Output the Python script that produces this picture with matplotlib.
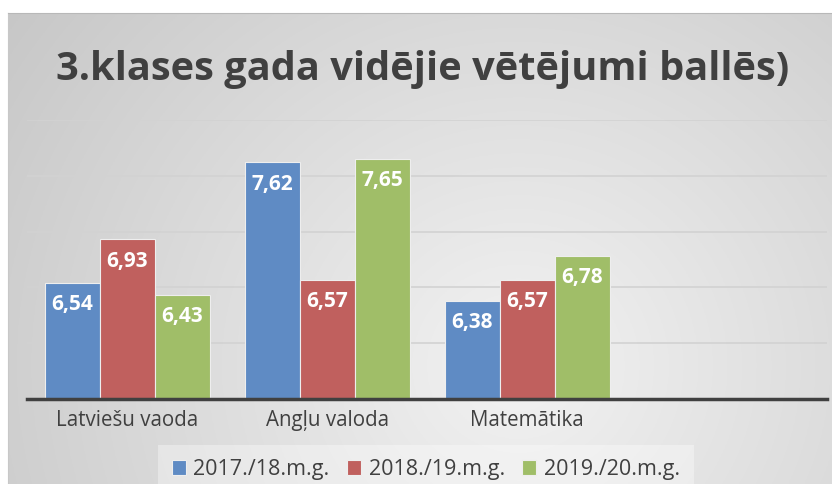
import numpy as np
import matplotlib
matplotlib.use("Agg")
import matplotlib.pyplot as plt

plt.rcParams["font.family"] = ["Open Sans", "DejaVu Sans"]

# data
subjects = ["Latviešu vaoda", "Angļu valoda", "Matemātika", ""]
years = ["2017./18.m.g.", "2018./19.m.g.", "2019./20.m.g."]
y2017 = [6.54, 7.62, 6.38]
y2018 = [6.93, 6.57, 6.57]
y2019 = [6.43, 7.65, 6.78]
colors = ["#5F8BC4", "#C0605E", "#A0BE68"]

W, H = 832, 484
fig = plt.figure(figsize=(W / 100.0, H / 100.0), dpi=100)
fig.patch.set_facecolor("white")

# radial gray background of the chart area
bg = fig.add_axes([8 / W, 0, 1 - 8 / W, 1 - 13 / H])
gx, gy = np.meshgrid(np.linspace(0, 1, 400), np.linspace(0, 1, 240))
dist = np.sqrt(((gx - 0.62) * 1.0) ** 2 + ((gy - 0.75) * 0.6) ** 2)
shade = np.clip(0.95 - 0.22 * dist, 0.76, 0.95)
bg.imshow(np.dstack([shade] * 3), extent=[0, 1, 0, 1], origin="upper", aspect="auto")
bg.set_xticks([])
bg.set_yticks([])
for s in bg.spines.values():
    s.set_visible(False)
bg.spines["top"].set_visible(True)
bg.spines["top"].set_color("#b8b8b8")
bg.spines["left"].set_visible(True)
bg.spines["left"].set_color("#c8c8c8")

ax = fig.add_axes([27 / W, (H - 399) / H, 800 / W, 279 / H])
ax.patch.set_alpha(0)

x = np.arange(len(subjects))
w = 0.275
series = [y2017, y2018, y2019]
for i, vals in enumerate(series):
    pos = x[:3] + (i - 1) * w
    bars = ax.bar(pos, np.array(vals) - 5.5, bottom=5.5, width=w, color=colors[i],
                  edgecolor="#eeeeee", linewidth=0.8, label=years[i], zorder=3)
    for b, v in zip(bars, vals):
        ax.annotate(("%.2f" % v).replace(".", ","), (b.get_x() + b.get_width() / 2, v),
                    xytext=(0, -8), textcoords="offset points", ha="center", va="top",
                    color="white", fontsize=15, fontweight="bold", zorder=4)

ax.set_xlim(-0.5, 3.5)
ax.set_ylim(5.5, 8.0)
ax.set_yticks(np.arange(5.5, 8.01, 0.5))
ax.yaxis.grid(True, color="#d2d2d2", linewidth=1.2, zorder=0)
ax.set_yticklabels([])
ax.tick_params(axis="y", length=0)
ax.set_xticks(x)
ax.set_xticklabels(subjects, fontsize=14.8, color="#404040")
ax.tick_params(axis="x", length=0, pad=8)
for s in ["top", "right", "left"]:
    ax.spines[s].set_visible(False)
ax.spines["bottom"].set_color("#404040")
ax.spines["bottom"].set_linewidth(2.5)
ax.spines["bottom"].set_zorder(5)

fig.text(0.508, 0.857, "3.klases gada vidējie vētējumi ballēs)", ha="center", va="center",
         fontsize=28.6, fontweight="bold", color="#404040")

leg = fig.legend(loc="lower center", bbox_to_anchor=(0.512, -0.03), ncol=3, frameon=True,
                 fontsize=15.5, handlelength=0.65, handleheight=0.65, handletextpad=0.37,
                 columnspacing=0.8, borderpad=0.35)
leg.get_frame().set_facecolor("white")
leg.get_frame().set_alpha(0.35)
leg.get_frame().set_edgecolor("none")
leg.get_frame().set_boxstyle("square", pad=0.3)
for t in leg.get_texts():
    t.set_color("#404040")

fig.savefig("out.png", dpi=100)
